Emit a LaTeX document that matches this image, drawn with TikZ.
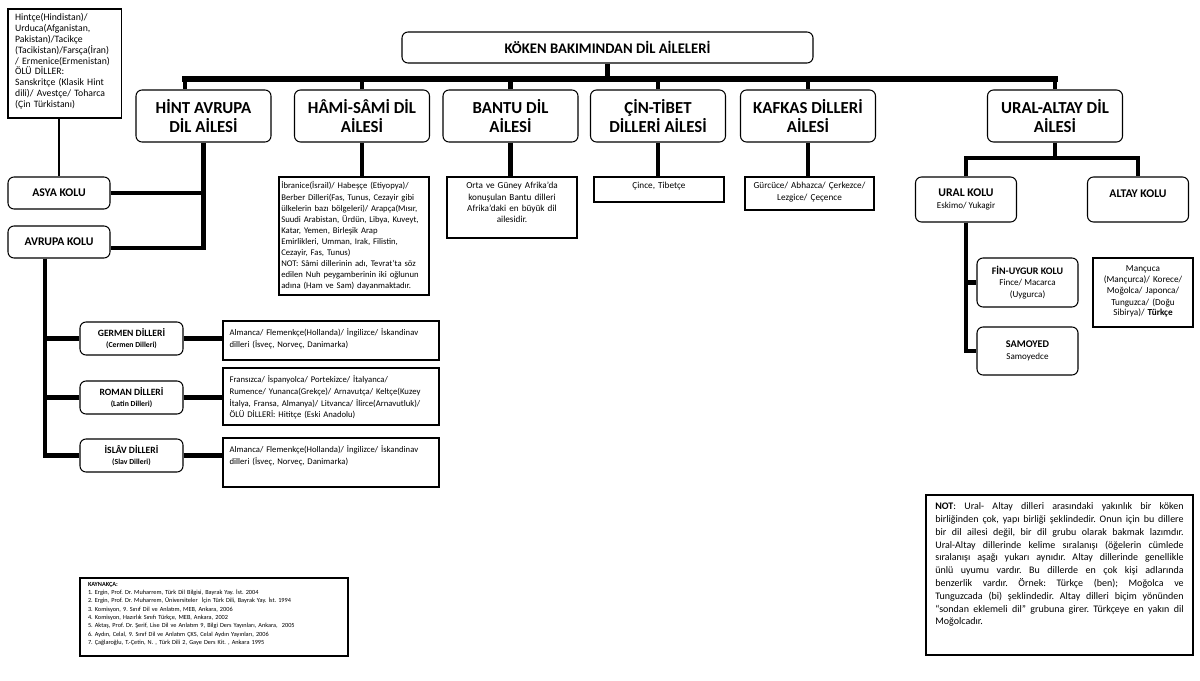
\documentclass[tikz,border=0pt]{standalone}
\usepackage{fontspec}
\setmainfont{Carlito}
\hyphenpenalty=10000
\exhyphenpenalty=10000
\tolerance=9999
\frenchspacing
\tikzset{
  family/.style={draw, rounded corners=4.5pt, line width=0.8pt, align=center,
    minimum width=101.25pt, minimum height=39pt, inner sep=1pt,
    font=\fontsize{12.6}{14.3}\selectfont\bfseries},
  kol/.style={draw, rounded corners=4.5pt, line width=0.8pt, align=center,
    inner sep=1pt, font=\fontsize{8.8}{9}\selectfont\bfseries},
  dil/.style={kol, minimum width=77.25pt, minimum height=24.75pt,
    font=\fontsize{7.2}{8}\selectfont\bfseries},
  info/.style={draw, line width=0.8pt, inner xsep=3pt, inner ysep=3pt,
    text height=6pt, font=\fontsize{6.9}{8.3}\selectfont},
  infoL/.style={info, align=left, inner xsep=5pt, text width=152pt,
    text height=8pt, font=\fontsize{6.5}{8.8}\selectfont},
  link/.style={line width=3.2pt},
  bar/.style={line width=5pt, line cap=rect},
}
\begin{document}
\begin{tikzpicture}[x=0.75pt, y=-0.75pt]
    \useasboundingbox (0,0) rectangle (1200,681);

    % title and families
    \node[family, minimum width=308.25pt, minimum height=23.25pt,
      font=\fontsize{11}{13}\selectfont\bfseries] (title) at (607.5,47.5) {KÖKEN BAKIMINDAN DİL AİLELERİ};
    \node[family] (hint) at (203.5,116) {HİNT AVRUPA\\DİL AİLESİ};
    \node[family] (hami) at (362,116) {HÂMİ-SÂMİ DİL\\AİLESİ};
    \node[family] (bantu) at (510.5,116) {BANTU DİL\\AİLESİ};
    \node[family] (cin) at (658,116) {ÇİN-TİBET\\DİLLERİ AİLESİ};
    \node[family] (kafkas) at (808,116) {KAFKAS DİLLERİ\\AİLESİ};
    \node[family] (ural) at (1055,116) {URAL-ALTAY DİL\\AİLESİ};

    % main bar
    \coordinate (barL) at (185,79);
    \coordinate (barR) at (1055,79);
    \draw[bar] (barL) -- (barR);
    \draw[link] (title.south) -- (title.south |- barL);
    \draw[link] (barL) -- (barL |- hint.north);
    \foreach \f in {hami,bantu,cin,kafkas,ural}
        \draw[link] (\f.north) -- (\f.north |- barL);

    % hint avrupa
    \node[info, text width=74pt, inner xsep=5.4pt, text depth=69.75pt, align=left,
      font=\fontsize{7.3}{8.1}\selectfont] (hint-info) at (64.5,63.5)
      {Hintçe(Hindistan)/\\Urduca(Afganistan,\\Pakistan)/Tacikçe\\(Tacikistan)/Farsça(İran)\\/ Ermenice(Ermenistan)\\ÖLÜ DİLLER:\\Sanskritçe (Klasik Hint\\dili)/ Avestçe/ Toharca\\(Çin Türkistanı)};
    \node[kol, minimum width=76.5pt, minimum height=24pt] (asya) at (59,193) {ASYA KOLU};
    \node[kol, minimum width=76.5pt, minimum height=24pt] (avrupa) at (59,242) {AVRUPA KOLU};
    \draw[line width=0.8pt] (hint-info.south -| asya.north) -- (asya.north);
    \path (avrupa.east) ++(0,-4.5pt) coordinate (avrupa-out);
    \draw[link] (hint.south) |- (avrupa-out);
    \draw[link] (asya.east) -- (asya.east -| hint.south);

    \node[dil] (germen) at (131.5,338.5) {GERMEN DİLLERİ\\{\fontsize{5.8}{7}\selectfont (Cermen Dilleri)}};
    \node[dil] (roman) at (131.5,397.5) {ROMAN DİLLERİ\\{\fontsize{5.8}{7}\selectfont (Latin Dilleri)}};
    \node[dil] (islav) at (131.5,455.5) {İSLÂV DİLLERİ\\{\fontsize{5.8}{7}\selectfont (Slav Dilleri)}};

    \node[infoL, text depth=15.25pt] (germen-txt) at (331,340.5)
      {Almanca/ Flemenkçe(Hollanda)/ İngilizce/ İskandinav\\dilleri (İsveç, Norveç, Danimarka)};
    \node[infoL, text depth=28.75pt] (roman-txt) at (331,396.5)
      {Fransızca/ İspanyolca/ Portekizce/ İtalyanca/\\Rumence/ Yunanca(Grekçe)/ Arnavutça/ Keltçe(Kuzey\\İtalya, Fransa, Almanya)/ Litvanca/ İlirce(Arnavutluk)/\\ÖLÜ DİLLERİ: Hititçe (Eski Anadolu)};
    \node[infoL, text depth=22.75pt] (islav-txt) at (331,462.5)
      {Almanca/ Flemenkçe(Hollanda)/ İngilizce/ İskandinav\\dilleri (İsveç, Norveç, Danimarka)};

    \foreach \d in {germen,roman,islav} {
        \draw[link] ([xshift=-10.5pt]avrupa.south) |- (\d.west);
        \draw[link] (\d.east) -- (\d.east -| \d-txt.west);
    }

    % other families
    \node[info, text width=109pt, inner xsep=1.75pt, text depth=76.5pt, align=left,
      font=\fontsize{6.5}{8.3}\selectfont] (hami-txt) at (354,236)
      {İbranice(İsrail)/ Habeşçe (Etiyopya)/\\Berber Dilleri(Fas, Tunus, Cezayir gibi\\ülkelerin bazı bölgeleri)/ Arapça(Mısır,\\Suudi Arabistan, Ürdün, Libya, Kuveyt,\\Katar, Yemen, Birleşik Arap\\Emirlikleri, Umman, Irak, Filistin,\\Cezayir, Fas, Tunus)\\NOT: Sâmi dillerinin adı, Tevrat’ta söz\\edilen Nuh peygamberinin iki oğlunun\\adına (Ham ve Sam) dayanmaktadır.};
    \node[info, text width=91.5pt, text depth=33.75pt, align=center] (bantu-txt) at (512,207.5)
      {Orta ve Güney Afrika’da\\konuşulan Bantu dilleri\\Afrika’daki en büyük dil\\ailesidir.};
    \node[info, text width=91.5pt, text depth=6.75pt, align=center] (cin-txt) at (659,189.5) {Çince, Tibetçe};
    \node[info, text width=90.75pt, text depth=12.75pt, align=center] (kafkas-txt) at (809.5,193.5)
      {Gürcüce/ Abhazca/ Çerkezce/\\Lezgice/ Çeçence};
    \foreach \f in {hami,bantu,cin,kafkas}
        \draw[link] (\f.south) -- (\f.south |- \f-txt.north);

    % ural-altay
    \node[kol, minimum width=75.75pt, minimum height=33.75pt] (uralkol) at (966,199.5)
      {URAL KOLU\\{\mdseries\fontsize{6.8}{8}\selectfont Eskimo/ Yukagir}};
    \node[kol, minimum width=75.75pt, minimum height=33.75pt] (altaykol) at (1138,199.5) {ALTAY KOLU\\\mbox{}};
    \node[kol, minimum width=75.75pt, minimum height=36.75pt,
      font=\fontsize{7.5}{8.6}\selectfont\bfseries] (finugur) at (1027.5,282.5)
      {FİN-UYGUR KOLU\\{\mdseries\fontsize{6.8}{8}\selectfont Fince/ Macarca}\\{\mdseries\fontsize{6.8}{8}\selectfont (Uygurca)}};
    \node[kol, minimum width=75.75pt, minimum height=36pt,
      font=\fontsize{7.7}{9}\selectfont\bfseries] (samoyed) at (1027.5,351)
      {SAMOYED\\{\mdseries\fontsize{6.8}{8}\selectfont Samoyedce}};
    \node[info, text width=69pt, text height=7.5pt, text depth=38.25pt, align=center,
      font=\fontsize{6.9}{8.25}\selectfont] (altay-txt) at (1143,292.5)
      {Mançuca\\(Mançurca)/ Korece/\\Moğolca/ Japonca/\\Tunguzca/ (Doğu\\Sibirya)/ \textbf{Türkçe}};

    \coordinate (uralfork) at (1055,158);
    \draw[link] (ural.south) -- (uralfork);
    \draw[link] (uralkol.north) |- (uralfork) -| (altaykol.north);
    \draw[link] (uralkol.south) |- (finugur.west);
    \draw[link] (uralkol.south) |- (samoyed.west);

    % notes
    \node[info, text width=186.25pt, inner xsep=7pt, text height=8pt, text depth=106pt,
      align=justify, font=\fontsize{7.5}{9.6}\selectfont] (note) at (1059.5,575)
      {\textbf{NOT}: Ural- Altay dilleri arasındaki yakınlık bir köken\linebreak
       birliğinden çok, yapı birliği şeklindedir. Onun için bu dillere\linebreak
       bir dil ailesi değil, bir dil grubu olarak bakmak lazımdır.\linebreak
       Ural-Altay dillerinde kelime sıralanışı (öğelerin cümlede\linebreak
       sıralanışı aşağı yukarı aynıdır. Altay dillerinde genellikle\linebreak
       ünlü uyumu vardır. Bu dillerde en çok kişi adlarında\linebreak
       benzerlik vardır. Örnek: Türkçe (ben); Moğolca ve\linebreak
       Tunguzcada (bi) şeklindedir. Altay dilleri biçim yönünden\linebreak
       “sondan eklemeli dil” grubuna girer. Türkçeye en yakın dil\linebreak
       Moğolcadır.};
    \node[info, text width=189pt, inner xsep=6pt, inner ysep=2pt, text height=4pt,
      text depth=50.5pt, align=left, font=\fontsize{4.7}{6.25}\selectfont] (kaynak) at (214,617)
      {\textbf{KAYNAKÇA:}\\
       1. Ergin, Prof. Dr. Muharrem, Türk Dil Bilgisi, Bayrak Yay. İst. 2004\\
       2. Ergin, Prof. Dr. Muharrem, Üniversiteler\ \ İçin Türk Dili, Bayrak Yay. İst. 1994\\
       3. Komisyon, 9. Sınıf Dil ve Anlatım, MEB, Ankara, 2006\\
       4. Komisyon, Hazırlık Sınıfı Türkçe, MEB, Ankara, 2002\\
       5. Aktaş, Prof. Dr. Şerif, Lise Dil ve Anlatım 9, Bilgi Ders Yayınları, Ankara,\ \ 2005\\
       6. Aydın, Celal, 9. Sınıf Dil ve Anlatım ÇKS, Celal Aydın Yayınları, 2006\\
       7. Çağlaroğlu, T.-Çetin, N. , Türk Dili 2, Gaye Ders Kit. , Ankara 1995};
\end{tikzpicture}
\end{document}
